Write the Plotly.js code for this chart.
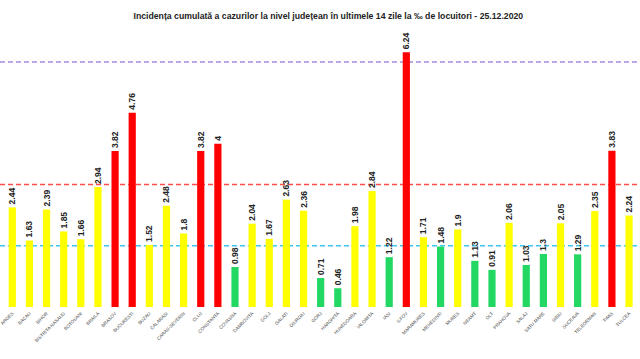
<!DOCTYPE html>
<html>
<head>
<meta charset="utf-8">
<script src="https://cdn.plot.ly/plotly-3.0.1.min.js"></script>
<style>html,body{margin:0;padding:0;background:#fff;}#chart{width:640px;height:359px;}</style>
</head>
<body>
<div id="chart"></div>
<script>
const counties = ["ARGES","BACAU","BIHOR","BISTRITA NASAUD","BOTOSANI","BRAILA","BRASOV","BUCURESTI","BUZAU","CALARASI","CARAS-SEVERIN","CLUJ","CONSTANTA","COVASNA","DAMBOVITA","DOLJ","GALATI","GIURGIU","GORJ","HARGHITA","HUNEDOARA","IALOMITA","IASI","ILFOV","MARAMURES","MEHEDINTI","MURES","NEAMT","OLT","PRAHOVA","SALAJ","SATU MARE","SIBIU","SUCEAVA","TELEORMAN","TIMIS","TULCEA"];
const incidence = [2.44,1.63,2.39,1.85,1.66,2.94,3.82,4.76,1.52,2.48,1.8,3.82,4,0.98,2.04,1.67,2.63,2.36,0.71,0.46,1.98,2.84,1.22,6.24,1.71,1.48,1.9,1.13,0.91,2.06,1.03,1.3,2.05,1.29,2.35,3.83,2.24];
const thresholds = [1.5, 3, 6];
const thresholdColors = ["#3cc8f0", "#ff4d4d", "#a58ae0"];
const titleText = "Incidența cumulată a cazurilor la nivel județean în ultimele 14 zile la ‰ de locuitori - 25.12.2020";

const barColors = incidence.map(v => v > 3 ? "#ff0000" : (v >= 1.5 ? "#ffff00" : "#22d863"));

const trace = {
  type: "bar",
  x: counties,
  y: incidence,
  marker: {color: barColors, line: {width: 0}},
  width: 0.42,
  text: incidence.map(v => String(v)),
  textposition: "outside",
  textangle: -90,
  constraintext: "none",
  cliponaxis: false,
  textfont: {family: "Liberation Sans, Arial, sans-serif", size: 8.5, color: "#222", weight: "bold"},
  hoverinfo: "none"
};

const shapes = thresholds.map((t, i) => ({
  type: "line", xref: "paper", x0: 0, x1: 1, yref: "y", y0: t, y1: t,
  line: {color: thresholdColors[i], width: 1.5, dash: "5px,3px"},
  layer: "below"
}));

const layout = {
  width: 640, height: 359,
  margin: {l: 0, r: 0, t: 0, b: 52, pad: 0},
  paper_bgcolor: "#fff", plot_bgcolor: "#fff",
  showlegend: false,
  title: {text: "<b>" + titleText + "</b>", x: 0.513, xanchor: "center", y: 0.955, yanchor: "middle", yref: "container",
          font: {family: "Liberation Sans, Arial, sans-serif", size: 8.7, color: "#222"}},
  xaxis: {type: "category", range: [-0.718, 36.64], tickangle: -45, automargin: false,
          tickfont: {family: "Liberation Sans, Arial, sans-serif", size: 4.6, color: "#444"},
          showline: false, showgrid: false, zeroline: false, ticks: "outside", ticklen: 1, tickcolor: "rgba(0,0,0,0)"},
  yaxis: {range: [0, 7.52], visible: false, showgrid: false, zeroline: false},
  shapes: shapes
};

Plotly.newPlot("chart", [trace], layout, {staticPlot: true, displayModeBar: false});
</script>
</body>
</html>
